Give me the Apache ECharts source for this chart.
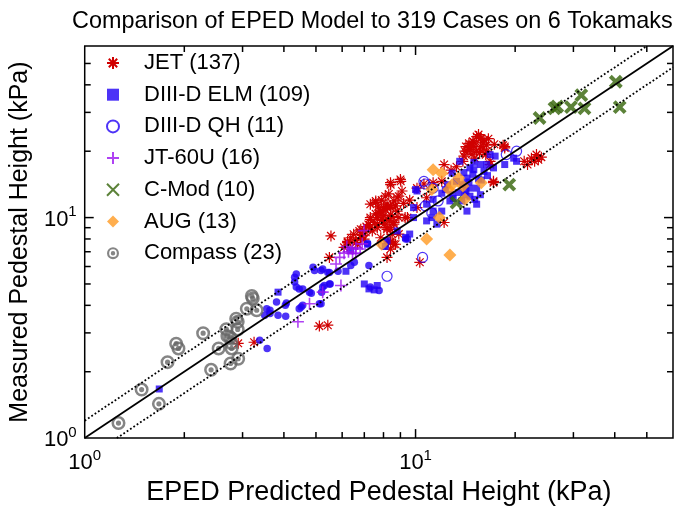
<!DOCTYPE html>
<html>
<head>
<meta charset="utf-8">
<script src="https://cdn.jsdelivr.net/npm/echarts@6/dist/echarts.min.js"></script>
<style>html,body{margin:0;padding:0;background:#fff}#c{width:680px;height:511px}</style>
</head>
<body>
<div id="c"></div>
<script>
// ---- axis setup ----
const axisMin = 1;
const axisMax = 60;
const minorTicks = [2, 3, 4, 5, 6, 7, 8, 9, 20, 30, 40, 50];
const majorTicks = [10];

// ---- reference lines ----
const lineEqual = [[1, 1], [60, 60]];
const lineUpper = [[1, 1.2], [50, 60]];
const lineLower = [[1.25, 1], [60, 48]];

// ---- data [EPED predicted, measured] in kPa ----
const jetData = [
  [2.91,2.69],[3.25,2.72],[5.12,3.22],[5.43,3.25],
  [5.55,8.26],[5.49,6.6],[6.23,7.8],[6.37,8.1],[6.6,7.9],[6.83,8.1],[6.76,8.7],[7.4,8.7],
  [6.08,7.33],[6.23,7.7],[6.6,7.7],[7.07,8.58],[6.83,8.85],[6.99,7.99],[6.68,7.57],
  [7.3,9.0],[7.66,9.0],[8.41,8.85],[7.3,10.0],[7.66,10.0],[8.32,9.66],[7.5,9.5],[8.03,9.34],
  [8.6,9.34],[7.85,10.7],[8.41,10.3],[8.8,10.7],[8.2,11.1],[8.6,11.9],[7.58,11.7],[8.9,12.5],
  [9.1,13.2],[8.41,14.1],[9.02,14.6],[8.1,12.5],[7.76,10.5],[8.2,11.5],[8.41,11.1],[8.03,10.2],
  [8.6,9.5],[8.9,10.0],[7.3,9.8],[7.66,9.34],[8.2,8.85],[8.5,8.4],[7.85,8.1],[8.41,7.8],
  [8.7,7.57],[8.2,6.6],[8.4,7.2],[9.45,10.0],[10.1,11.1],[8.6,7.57],[8.9,8.42],
  [10.3,6.27],[12.2,9.5],[7.58,11.9],[7.3,11.5],[7.58,10.4],[7.85,10.6],
  [15.7,22.9],[15.3,23.3],[16.1,22.5],[14.5,21.7],[14.9,21.3],[15.7,21.0],[14.6,20.4],
  [14.3,20.0],[15.3,20.0],[13.9,18.0],[15.1,18.6],[16.3,19.3],[16.8,18.0],[18.4,21.3],
  [18.6,20.7],[12.2,17.4],[9.0,14.9],[8.4,14.4],[8.8,12.3],[8.4,11.3],[8.0,11.1],[9.3,10.0],
  [8.2,9.0],[8.4,7.7],[17.2,14.4],[21.3,18.0],[22.4,18.6],[22.9,18.0],[23.2,19.3],[23.5,18.3],
  [11.3,14.4],[12.0,14.6],[16.4,21.3],[16.4,20.0],[15.8,22.9],[16.8,17.4],[17.2,14.6],
  [10.1,13.6],[10.8,12.3],[14.9,22.2],[14.6,20.9],[14.1,20.0],[18.6,21.0],
  [15.0,22.0],[16.0,21.8],[15.5,23.8],[14.8,19.4],[16.0,20.5],[15.0,21.0],[14.2,21.0],
  [17.3,21.5],[15.6,19.7],[16.6,22.8],[14.0,19.0],[7.9,9.8],[8.1,10.9],[7.7,11.2],
  [8.7,11.3],[9.2,11.6],[7.2,9.3],[8.0,9.7],[8.5,10.1],[6.9,8.3],[7.9,12.0],[8.3,12.8],
  [21.8,17.4],[24.0,18.8],[12.8,16.4],[13.3,17.0],[9.6,12.0],[10.6,14.2],[6.5,8.4],[7.1,9.1]
];
const elmSquares = [
  [13.6,18.0],[15.7,17.4],[14.6,16.8],[14.9,15.7],[14.3,15.1],[13.9,14.1],[14.6,13.6],[15.3,13.6],
  [14.1,12.7],[13.8,11.9],[15.1,12.1],[15.7,12.7],[16.8,19.3],[17.4,19.0],[16.4,17.4],[17.2,16.8],
  [16.1,16.2],[18.6,17.4],[19.8,18.6],[20.2,18.0],[12.9,15.9],[10.0,13.4],[11.3,12.1],[10.8,11.5],
  [9.86,11.1],[11.3,10.7],[9.86,10.0],[11.2,10.0],[10.8,9.66],[11.6,9.34],[12.0,10.7],[14.3,10.7],
  [15.3,11.5],[14.6,12.5],[13.3,14.6],[12.5,14.1],[12.3,13.4],[12.0,12.9],[12.9,12.7],[12.7,11.9],
  [10.1,13.2],[14.0,16.0],[15.0,16.5],[15.5,15.0],[14.5,14.5],[15.8,14.8],[13.5,13.0],[15.0,17.8],
  [16.5,15.5],[14.2,13.2],[13.0,12.2],[7.0,5.0],[7.23,4.75],[7.5,4.7],[7.66,4.92],[6.16,5.71],
  [3.84,4.59],[1.68,1.67],[7.16,7.57],[6.37,7.08],[9.33,8.13],[9.6,8.42],[8.8,8.7],[8.2,7.85],[8.1,7.4]
];
const elmDots = [
  [3.38,2.78],[3.56,2.55],[3.5,3.61],[3.63,3.80],[3.8,4.14],[3.84,3.61],[4.04,4.0],[4.36,5.55],
  [4.31,5.1],[4.36,4.84],[4.45,4.75],[4.56,4.75],[4.51,3.93],[4.45,3.86],[4.78,4.59],[3.55,3.86],
  [3.63,3.67],[4.07,4.1],[4.05,3.57],[4.31,5.37],[4.9,5.95],[5.18,5.76],[5.2,4.59],[5.49,5.64],
  [5.52,5.0],[5.24,4.84],[5.12,4.07],[5.83,5.71],[6.37,6.06],[6.53,6.27],[7.16,7.63],[7.23,6.06],
  [4.95,5.76],[5.24,5.85],[5.43,5.64],[5.49,5.0],[5.3,4.92],[4.84,4.54],[4.56,4.0],[5.18,4.07],
  [9.33,7.99],[9.45,7.99],[7.3,4.84],[7.76,4.67]
];
const qhData = [
  [10.6,14.6],[10.7,11.3],[11.7,11.9],[8.0,7.57],[10.5,6.6],[20.2,20.0],[18.8,19.3],
  [8.2,5.42],[11.2,10.5],[11.3,13.6],[10.7,14.2]
];
const jt60Data = [
  [4.41,3.37],[4.78,4.07],[5.24,4.59],[5.95,4.92],[5.75,6.16],[6.08,6.9],[6.27,7.0],[6.45,7.2],
  [6.6,7.3],[6.8,7.2],[6.45,6.85],[6.99,8.73],[6.2,7.4],[6.9,7.6],[5.9,6.6],[6.6,6.9]
];
const cmodData = [
  [40.3,41.3],[41.4,31.7],[31.7,35.9],[32.4,31.3],[29.5,31.7],[26.3,31.3],[26.8,31.9],
  [23.7,28.3],[19.2,14.1],[13.3,11.7]
];
const augData = [
  [11.3,16.5],[12.0,15.9],[13.5,15.1],[12.9,14.1],[12.6,13.4],[11.2,13.4],[15.8,14.4],
  [14.1,12.1],[11.8,10.0],[10.8,7.99],[12.7,6.77],[7.9,7.57],[13.9,13.9]
];
const compassData = [
  [1.265,1.17],[1.486,1.66],[1.676,1.43],[1.78,2.21],[1.89,2.68],[1.92,2.55],[2.28,2.99],
  [2.41,2.04],[2.54,2.55],[2.68,3.12],[2.75,2.87],[2.76,2.18],[2.78,2.55],[2.87,3.48],
  [2.9,3.37],[2.9,3.11],[2.91,2.29],[3.09,3.86],[3.2,4.41],[3.31,3.80],[2.7,2.9],[2.78,2.69],[3.22,4.3]
];

const names = ['JET (137)', 'DIII-D ELM (109)', 'DIII-D QH (11)', 'JT-60U (16)', 'C-Mod (10)', 'AUG (13)', 'Compass (23)'];

// tick data for custom tick renderer: [x, y, kind(0=x,1=y), major]
const tickData = [];
minorTicks.forEach(v => { tickData.push([v, axisMin, 0, 0]); tickData.push([axisMin, v, 1, 0]); });
majorTicks.forEach(v => { tickData.push([v, axisMin, 0, 1]); tickData.push([axisMin, v, 1, 1]); });

const FONT = 'Liberation Sans, Arial, Helvetica, sans-serif';
const SYM_AST = 'path://M10 0L10 20M0 10L20 10M3 3L17 17M3 17L17 3';
const SYM_PLUS = 'path://M10 0L10 20M0 10L20 10';
const SYM_X = 'path://M0 0L20 20M0 20L20 0';
const SYM_SQ = 'path://M0 0L20 0L20 20L0 20Z';
const SYM_DIA = 'path://M10 0L20 10L10 20L0 10Z';
const SYM_BULL = 'path://M0 10A10 10 0 1 1 20 10A10 10 0 1 1 0 10Z M3.6 10A6.4 6.4 0 1 0 16.4 10A6.4 6.4 0 1 0 3.6 10Z M6.3 10A3.7 3.7 0 1 1 13.7 10A3.7 3.7 0 1 1 6.3 10Z';

function powLabel(v) {
  const l = Math.log10(v);
  if (Math.abs(l - Math.round(l)) > 1e-6) return '';
  return '{b|10}{s|' + Math.round(l) + '}';
}
const labelRich = {
  b: { fontSize: 22, fontFamily: FONT, color: '#000', lineHeight: 26, verticalAlign: 'bottom' },
  s: { fontSize: 15, fontFamily: FONT, color: '#000', lineHeight: 14, verticalAlign: 'top' }
};

const chart = echarts.init(document.getElementById('c'), null, { renderer: 'canvas' });
const option = {
  animation: false,
  backgroundColor: '#fff',
  title: {
    text: 'Comparison of EPED Model to 319 Cases on 6 Tokamaks',
    left: 67, top: 5,
    textStyle: { fontSize: 23.4, fontWeight: 'normal', color: '#000', fontFamily: FONT }
  },
  grid: { left: 82, right: 7, top: 46, bottom: 69, show: true, borderColor: '#000', borderWidth: 1.5, backgroundColor: 'transparent' },
  legend: {
    orient: 'vertical', left: 101, top: 47,
    itemWidth: 52, itemHeight: 12, itemGap: 9.7,
    data: names,
    textStyle: { fontSize: 22, fontFamily: FONT, color: '#000', lineHeight: 22 }
  },
  xAxis: {
    type: 'log', logBase: 10, min: axisMin, max: axisMax,
    axisLine: { show: false }, axisTick: { show: false }, splitLine: { show: false },
    axisLabel: { formatter: powLabel, rich: labelRich, margin: 10, showMaxLabel: false },
    name: 'EPED Predicted Pedestal Height (kPa)', nameLocation: 'middle', nameGap: 38,
    nameTextStyle: { fontSize: 27, fontFamily: FONT, color: '#000' }
  },
  yAxis: {
    type: 'log', logBase: 10, min: axisMin, max: axisMax,
    axisLine: { show: false }, axisTick: { show: false }, splitLine: { show: false },
    axisLabel: { formatter: powLabel, rich: labelRich, margin: 8, showMaxLabel: false },
    name: 'Measured Pedestal Height (kPa)', nameLocation: 'middle', nameGap: 45,
    nameTextStyle: { fontSize: 25, fontFamily: FONT, color: '#000' }
  },
  series: [
    { name: names[0], type: 'scatter', data: jetData, symbol: SYM_AST, symbolSize: 11,
      itemStyle: { color: 'transparent', borderColor: '#d00000', borderWidth: 1.2, opacity: 1 } },
    { name: names[1], type: 'scatter', data: elmSquares, symbol: SYM_SQ, symbolSize: 7,
      itemStyle: { color: '#2000f5' } },
    { name: names[1], type: 'scatter', data: elmDots, symbol: 'circle', symbolSize: 7.5,
      itemStyle: { color: '#2000f5' } },
    { name: names[2], type: 'scatter', data: qhData, symbol: 'circle', symbolSize: 10,
      itemStyle: { color: 'transparent', borderColor: '#2000f5', borderWidth: 1.2 } },
    { name: names[3], type: 'scatter', data: jt60Data, symbol: SYM_PLUS, symbolSize: 12,
      itemStyle: { color: 'transparent', borderColor: '#9b12f0', borderWidth: 1.6 } },
    { name: names[4], type: 'scatter', data: cmodData, symbol: SYM_X, symbolSize: 11,
      itemStyle: { color: 'transparent', borderColor: '#336308', borderWidth: 4 } },
    { name: names[5], type: 'scatter', data: augData, symbol: SYM_DIA, symbolSize: 13,
      itemStyle: { color: '#ff9a22' } },
    { name: names[6], type: 'scatter', data: compassData, symbol: SYM_BULL, symbolSize: 14,
      itemStyle: { color: '#666666' } },
    { type: 'line', data: lineEqual, showSymbol: false, symbol: 'none', z: 10, silent: true,
      lineStyle: { color: '#000', width: 1.8 } },
    { type: 'line', data: lineUpper, showSymbol: false, symbol: 'none', z: 10, silent: true,
      lineStyle: { color: '#000', width: 1.8, type: [1.8, 2.2] } },
    { type: 'line', data: lineLower, showSymbol: false, symbol: 'none', z: 10, silent: true,
      lineStyle: { color: '#000', width: 1.8, type: [1.8, 2.2] } },
    { type: 'custom', data: tickData, silent: true, z: 11, clip: false,
      renderItem: function (params, api) {
        const kind = api.value(2), major = api.value(3);
        const len = major ? 9 : 6;
        const st = { stroke: '#000', lineWidth: 1.5 };
        if (kind === 0) {
          const v = api.value(0);
          const b = api.coord([v, axisMin]);
          const t = api.coord([v, axisMax]);
          return { type: 'group', children: [
            { type: 'line', shape: { x1: b[0], y1: b[1], x2: b[0], y2: b[1] - len }, style: st },
            { type: 'line', shape: { x1: t[0], y1: t[1], x2: t[0], y2: t[1] + len }, style: st }
          ]};
        } else {
          const v = api.value(1);
          const l = api.coord([axisMin, v]);
          const r = api.coord([axisMax, v]);
          return { type: 'group', children: [
            { type: 'line', shape: { x1: l[0], y1: l[1], x2: l[0] + len, y2: l[1] }, style: st },
            { type: 'line', shape: { x1: r[0], y1: r[1], x2: r[0] - len, y2: r[1] }, style: st }
          ]};
        }
      }
    }
  ]
};
chart.setOption(option);
</script>
</body>
</html>
